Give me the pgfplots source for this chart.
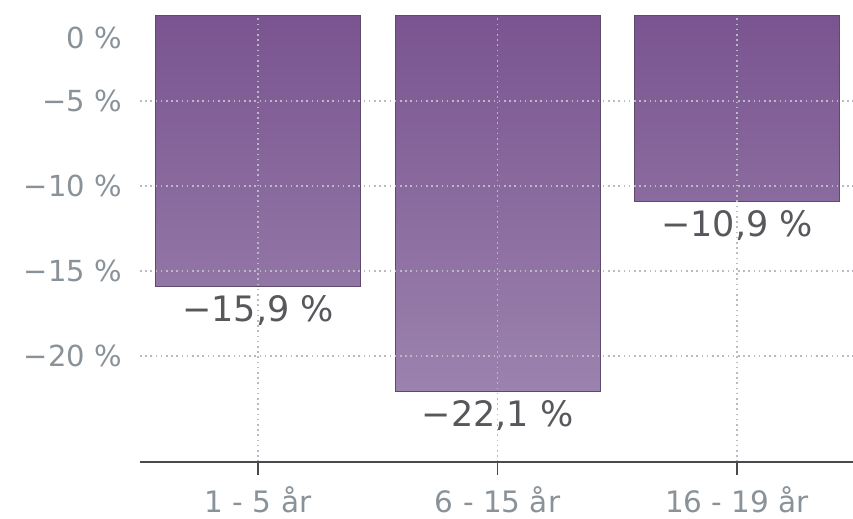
\documentclass[border=0pt]{standalone}
\usepackage{pgfplots}
\pgfplotsset{compat=1.18}
\usepackage{fontspec}
\setmainfont{DejaVu Sans}
\definecolor{tickgray}{HTML}{8A9299}
\definecolor{valgray}{HTML}{58585C}
\definecolor{axisgray}{HTML}{4A4A4E}
\definecolor{gridgray}{HTML}{B9BAC2}
\definecolor{bartop}{HTML}{7A5490}
\definecolor{barbot}{HTML}{9B83AE}
\definecolor{baredge}{HTML}{5E4A6C}
\begin{document}
\begin{tikzpicture}
\begin{axis}[
  name=ax,
  scale only axis, width=713bp, height=446bp,
  xmin=-0.493, xmax=2.484, ymin=-26.24, ymax=0,
  axis x line=bottom, axis y line=left,
  axis line style={-},
  x axis line style={draw=axisgray, line width=2bp},
  y axis line style={draw=none},
  xtick={0,1,2},
  xticklabels={1 - 5 år, 6 - 15 år, 16 - 19 år},
  ytick={-20,-15,-10,-5},
  yticklabels={−20 \%, −15 \%, −10 \%, −5 \%},
  extra y ticks={0}, extra y tick labels={0 \%},
  extra y tick style={grid=none, yticklabel style={yshift=-22bp}},
  tick align=outside,
  major tick length=13bp,
  xtick style={draw=axisgray, line width=1.6bp},
  ytick style={draw=none},
  grid=major,
  major grid style={draw=gridgray, line width=1.6bp, dash pattern=on 1.6bp off 3.6bp},
  xticklabel style={anchor=center, inner sep=0pt, yshift=-25bp, font=\fontsize{29.5bp}{32bp}\selectfont, text=tickgray},
  yticklabel style={anchor=east, xshift=-5bp, inner sep=0pt, font=\fontsize{29bp}{32bp}\selectfont, text=tickgray},
  axis on top,
  clip=false,
  ybar, bar width=0.856,
  point meta=explicit symbolic,
  nodes near coords,
  every node near coord/.append style={anchor=center, yshift=-24bp, font=\fontsize{35bp}{38bp}\selectfont, text=valgray},
]
\addplot[draw=baredge, line width=1bp, top color=bartop, bottom color=barbot]
  coordinates {(0,-15.9) [−15,9 \%] (1,-22.1) [−22,1 \%] (2,-10.9) [−10,9 \%]};
\end{axis}
\pgfresetboundingbox
\path[use as bounding box] ([xshift=-140bp,yshift=-57bp]ax.south west) rectangle ([yshift=16bp]ax.north east);
\end{tikzpicture}
\end{document}
